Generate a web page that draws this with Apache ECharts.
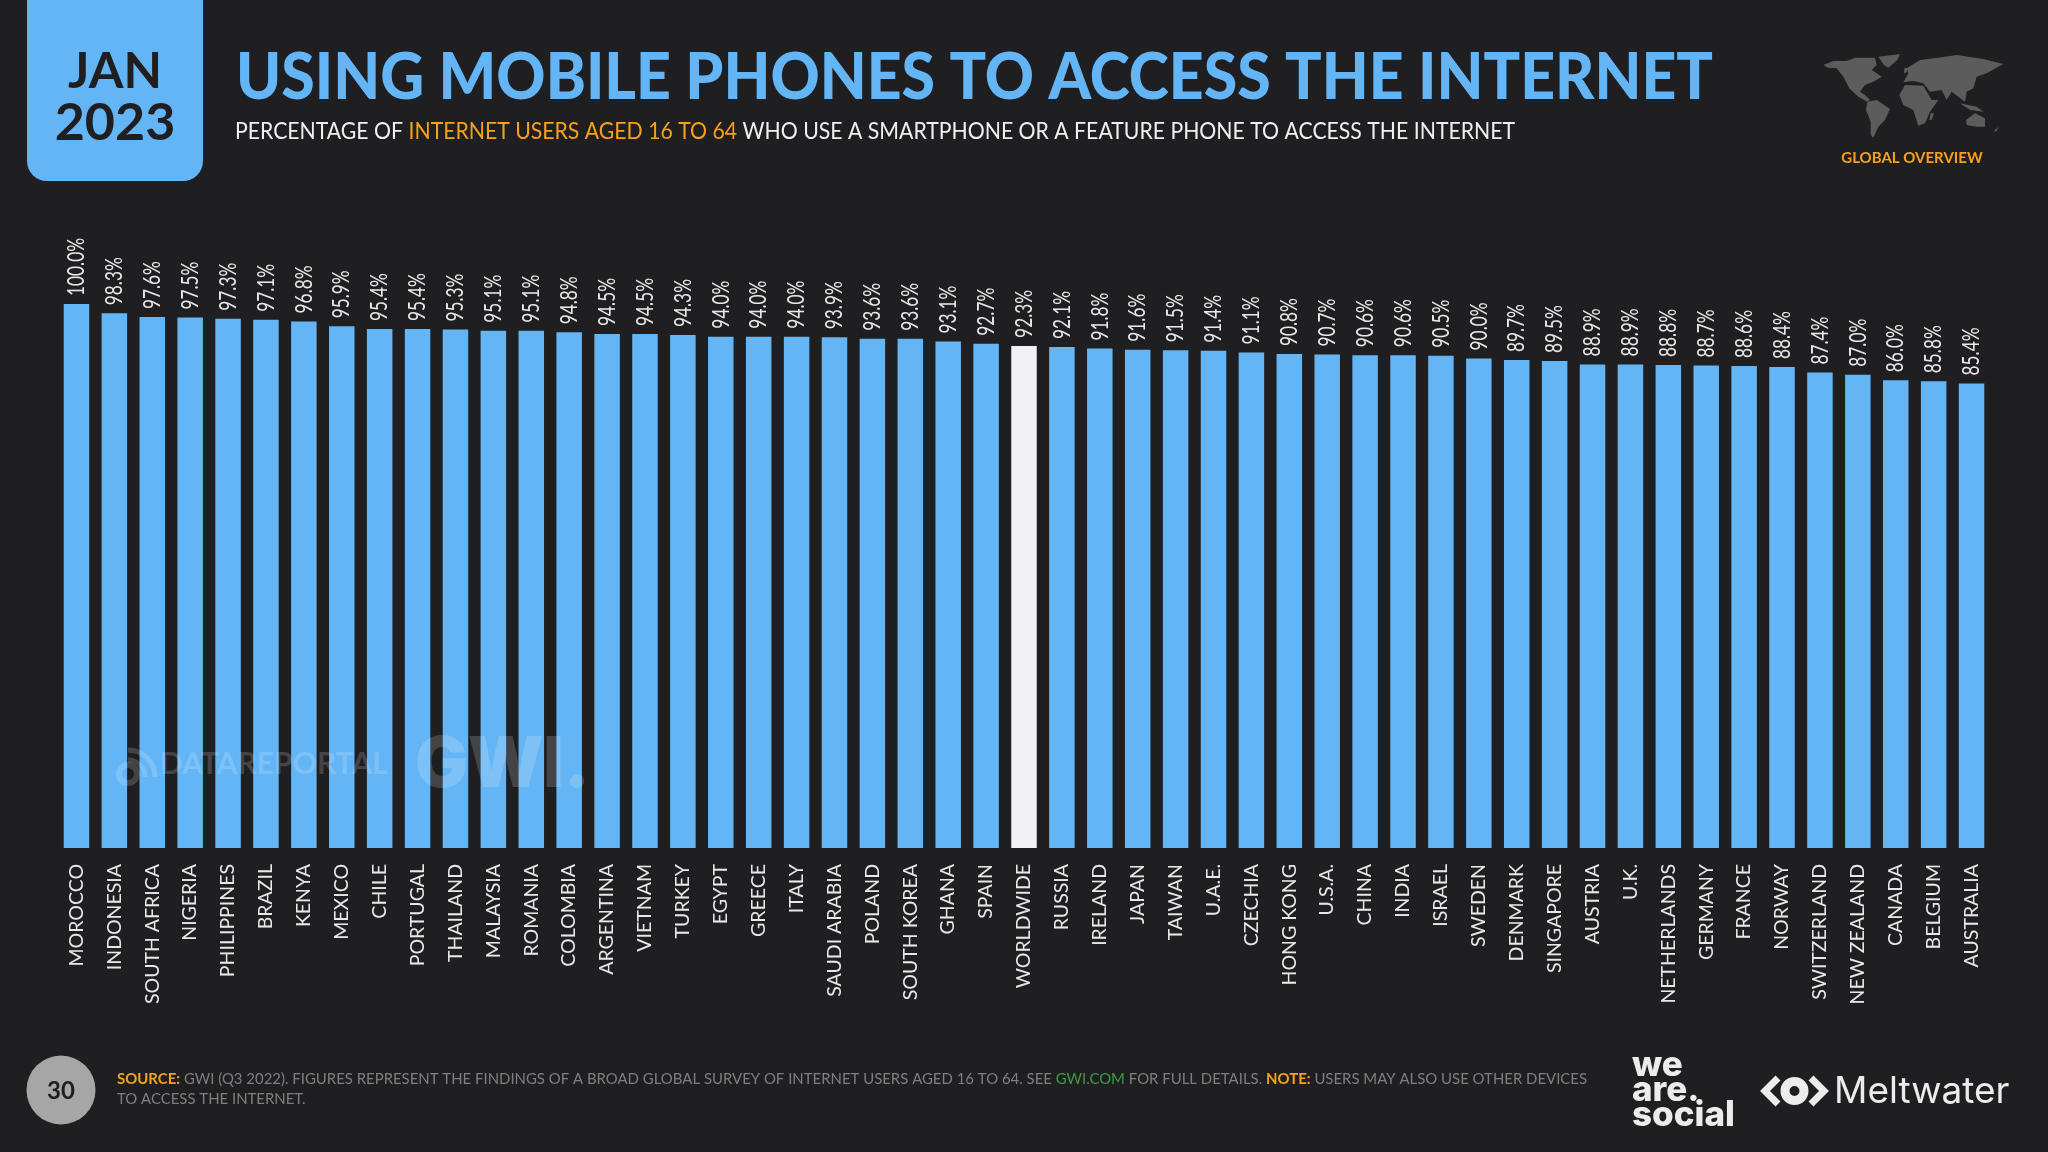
<!DOCTYPE html>
<html lang="en">
<head>
  <meta charset="UTF-8">
  <title>Using mobile phones to access the internet</title>
  <script src="https://cdn.jsdelivr.net/npm/echarts@6/dist/echarts.min.js"></script>
  <style>
    html,body{margin:0;padding:0;background:#1f1f21;}
  </style>
</head>
<body>
  <div id="main" style="width:2048px;height:1152px;"></div>
  <script>
    // data
    var countries = ["MOROCCO","INDONESIA","SOUTH AFRICA","NIGERIA","PHILIPPINES","BRAZIL","KENYA","MEXICO","CHILE","PORTUGAL",
      "THAILAND","MALAYSIA","ROMANIA","COLOMBIA","ARGENTINA","VIETNAM","TURKEY","EGYPT","GREECE","ITALY",
      "SAUDI ARABIA","POLAND","SOUTH KOREA","GHANA","SPAIN","WORLDWIDE","RUSSIA","IRELAND","JAPAN","TAIWAN",
      "U.A.E.","CZECHIA","HONG KONG","U.S.A.","CHINA","INDIA","ISRAEL","SWEDEN","DENMARK","SINGAPORE",
      "AUSTRIA","U.K.","NETHERLANDS","GERMANY","FRANCE","NORWAY","SWITZERLAND","NEW ZEALAND","CANADA","BELGIUM","AUSTRALIA"];
    var shares = [100.0,98.3,97.6,97.5,97.3,97.1,96.8,95.9,95.4,95.4,
      95.3,95.1,95.1,94.8,94.5,94.5,94.3,94.0,94.0,94.0,
      93.9,93.6,93.6,93.1,92.7,92.3,92.1,91.8,91.6,91.5,
      91.4,91.1,90.8,90.7,90.6,90.6,90.5,90.0,89.7,89.5,
      88.9,88.9,88.8,88.7,88.6,88.4,87.4,87.0,86.0,85.8,85.4];
    var highlight = "WORLDWIDE";

    var BG = "#1f1f21", BLUE = "#64b5f6", ORANGE = "#f5a11c", GREY = "#7f7f7f", MARK = "rgba(255,255,255,0.17)";

    // scale needed to squeeze a string into a width, the fonts here are wider than the original
    var ctx = document.createElement("canvas").getContext("2d");
    function fit(text,font,width){
      ctx.font = font;
      return width/ctx.measureText(text).width;
    }

    var titleText = "USING MOBILE PHONES TO ACCESS THE INTERNET";
    var subA = "PERCENTAGE OF ", subB = "INTERNET USERS AGED 16 TO 64", subC = " WHO USE A SMARTPHONE OR A FEATURE PHONE TO ACCESS THE INTERNET";
    var srcA = "SOURCE:", srcB = " GWI (Q3 2022). FIGURES REPRESENT THE FINDINGS OF A BROAD GLOBAL SURVEY OF INTERNET USERS AGED 16 TO 64. SEE ",
        srcC = "GWI.COM", srcD = " FOR FULL DETAILS. ", srcE = "NOTE:", srcF = " USERS MAY ALSO USE OTHER DEVICES";
    var srcScale = fit(srcA+srcB+srcC+srcD+srcE+srcF,"16px Lato",1469);

    // rough world outline, in px of a 630x375 box
    var continents = [
      [[40,60],[70,48],[110,48],[135,38],[195,38],[200,60],[185,75],[200,85],[215,95],[190,110],[165,120],[150,140],[165,150],[180,165],[172,170],[145,155],[118,130],[100,95],[80,70],[55,68]],
      [[205,35],[270,27],[262,45],[235,68],[222,60]],
      [[172,170],[200,165],[240,192],[225,225],[205,245],[190,278],[182,270],[182,230],[168,195]],
      [[268,150],[285,120],[340,122],[365,165],[385,165],[360,200],[345,235],[325,242],[310,195],[280,180]],
      [[280,112],[295,85],[290,70],[330,45],[385,38],[440,30],[520,42],[580,57],[530,85],[500,95],[490,130],[470,140],[465,170],[445,155],[425,140],[410,165],[395,135],[360,140],[340,115],[310,108]],
      [[283,70],[291,68],[291,82],[282,85]],
      [[450,175],[500,185],[520,200],[480,195]],
      [[468,225],[495,205],[525,220],[525,245],[500,245],[470,240]],
      [[362,205],[372,205],[365,225],[358,225]],
      [[550,260],[565,245],[560,258]]
    ];
    var mapShapes = continents.map(function(pts){
      return {type:"polygon",x:1810,y:45,scaleX:1/3,scaleY:1/3,shape:{points:pts},style:{fill:"#5c5c5c"}};
    });

    // rotated, squeezed value labels
    function valueLabel(params,api){
      var p = api.coord([api.value(0),api.value(1)]);
      return {
        type:"text",x:p[0],y:p[1]-8,rotation:Math.PI/2,scaleX:0.72,
        style:{text:api.value(1).toFixed(1)+"%",font:"24px Lato",fill:"#e8e8e8",align:"left",verticalAlign:"middle"}
      };
    }

    var mychart = echarts.init(document.getElementById("main"));
    var option = {
      backgroundColor:BG,
      animation:false,
      grid:{left:57.5,right:57.5,top:304,bottom:304},
      xAxis:{
        type:"category",
        data:countries,
        axisLine:{show:false},
        axisTick:{show:false},
        axisLabel:{interval:0,rotate:90,margin:16,color:"#e8e8e8",fontFamily:"Lato",fontSize:19.5}
      },
      yAxis:{type:"value",min:0,max:100,show:false,splitLine:{show:false}},
      series:[{
        type:"bar",
        barWidth:25.5,
        data:shares.map(function(v,i){
          return {value:v,itemStyle:{color:countries[i]===highlight?"#f2f1f3":BLUE}};
        })
      },{
        type:"custom",
        clip:false,
        renderItem:valueLabel,
        data:shares.map(function(v,i){return [i,v];})
      }],
      graphic:[
        // date badge
        {type:"rect",shape:{x:27,y:-30,width:176,height:211,r:20},style:{fill:BLUE}},
        {type:"text",x:115,y:72,style:{text:"JAN",font:'700 50px Lato',fill:BG,align:"center",verticalAlign:"middle"}},
        {type:"text",x:115,y:123,style:{text:"2023",font:'700 52px Lato',fill:BG,align:"center",verticalAlign:"middle"}},
        // headings
        {type:"text",x:236,y:78,scaleX:fit(titleText,'900 64px Lato',1477),style:{text:titleText,font:'900 64px Lato',fill:BLUE,verticalAlign:"middle"}},
        {type:"text",x:235,y:131,scaleX:fit(subA+subB+subC,"24px Lato",1280),style:{
          text:"{w|"+subA+"}{o|"+subB+"}{w|"+subC+"}",
          verticalAlign:"middle",
          rich:{w:{font:"24px Lato",fill:"#f0f0f0"},o:{font:"24px Lato",fill:ORANGE}}
        }},
        {type:"text",x:1912,y:158,style:{text:"GLOBAL OVERVIEW",font:'700 15px Lato',fill:ORANGE,align:"center",verticalAlign:"middle"}}
      ].concat(mapShapes,[
        // watermarks, above the bars
        {type:"arc",z:50,silent:true,shape:{cx:128,cy:774,r:9,startAngle:0,endAngle:6.28},style:{fill:null,stroke:MARK,lineWidth:6}},
        {type:"arc",z:50,silent:true,shape:{cx:128,cy:777,r:17,startAngle:-1.57,endAngle:0},style:{fill:null,stroke:MARK,lineWidth:5}},
        {type:"arc",z:50,silent:true,shape:{cx:128,cy:777,r:27,startAngle:-1.57,endAngle:0},style:{fill:null,stroke:MARK,lineWidth:5}},
        {type:"text",z:50,silent:true,x:160,y:764,style:{text:"DATAREPORTAL",font:'700 30px Lato',fill:MARK,verticalAlign:"middle"}},
        {type:"text",z:50,silent:true,x:415,y:766,style:{text:"GWI.",font:'900 70px Inter',fill:MARK,verticalAlign:"middle"}},
        // footer
        {type:"circle",shape:{cx:61,cy:1090,r:34.5},style:{fill:"#a6a6a6"}},
        {type:"text",x:61,y:1091,style:{text:"30",font:'700 24px Lato',fill:BG,align:"center",verticalAlign:"middle"}},
        {type:"text",x:117,y:1079,scaleX:srcScale,style:{
          text:"{o|"+srcA+"}{g|"+srcB+"}{l|"+srcC+"}{g|"+srcD+"}{o|"+srcE+"}{g|"+srcF+"}",
          verticalAlign:"middle",
          rich:{g:{font:"16px Lato",fill:GREY},o:{font:"700 16px Lato",fill:ORANGE},l:{font:"16px Lato",fill:"#3f9a45"}}
        }},
        {type:"text",x:117,y:1099,scaleX:srcScale,style:{text:"TO ACCESS THE INTERNET.",font:"16px Lato",fill:GREY,verticalAlign:"middle"}},
        // logos
        {type:"text",x:1632,y:1065,style:{text:"we",font:'800 35px Inter',fill:"#ececec",verticalAlign:"middle"}},
        {type:"text",x:1632,y:1090,style:{text:"are.",font:'800 35px Inter',fill:"#ececec",verticalAlign:"middle"}},
        {type:"text",x:1632,y:1115,style:{text:"social",font:'800 35px Inter',fill:"#ececec",verticalAlign:"middle"}},
        {type:"polyline",shape:{points:[[1778,1078],[1765,1091],[1778,1104]]},style:{fill:null,stroke:"#ececec",lineWidth:7}},
        {type:"polyline",shape:{points:[[1811,1078],[1824,1091],[1811,1104]]},style:{fill:null,stroke:"#ececec",lineWidth:7}},
        {type:"circle",shape:{cx:1794.5,cy:1091,r:9.5},style:{fill:null,stroke:"#ececec",lineWidth:9}},
        {type:"text",x:1834,y:1092,style:{text:"Meltwater",font:'400 37px Inter',fill:"#ececec",verticalAlign:"middle"}}
      ])
    };
    mychart.setOption(option);
  </script>
</body>
</html>
